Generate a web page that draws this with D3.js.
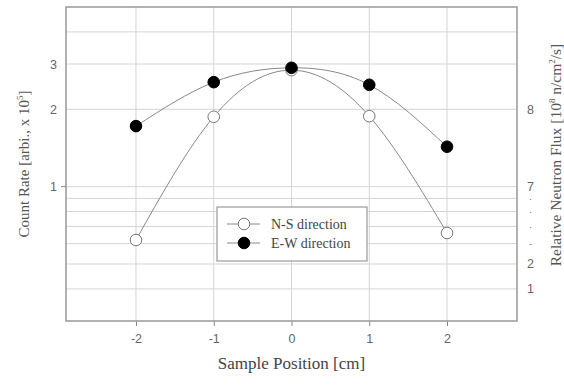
<!DOCTYPE html>
<html>
<head>
<meta charset="utf-8">
<script src="https://cdn.jsdelivr.net/npm/d3@7"></script>
<style>
  body { margin: 0; background: #fff; }
  svg { display: block; }
</style>
</head>
<body>
<div id="chart"></div>
<script>
/* CONSTANTS AND GLOBALS */
const width = 564,
  height = 388,
  margin = { top: 7, bottom: 67, left: 66, right: 47 };

// data
const positions = [-2, -1, 0, 1, 2];
const nsValues = [0.62, 1.87, 2.84, 1.88, 0.66];   // N-S direction (open)
const ewValues = [1.72, 2.55, 2.9, 2.49, 1.43];    // E-W direction (filled)
const xTicks = [-2, -1, 0, 1, 2];
const yGrid = [4, 3, 2, 1, 0.9, 0.8, 0.7, 0.6, 0.5, 0.4];
const leftTicks = [3, 2, 1];
const rightTickValues = [2, 1, 0.9, 0.8, 0.7, 0.6, 0.5, 0.4];
const rightTickLabels = ["8", "7", "·", "·", "·", "-", "2", "1"];

// SCALES
const xScale = d3.scaleLinear()
  .domain([-2.9, 2.9])
  .range([margin.left, width - margin.right]);

const yScale = d3.scaleLog()
  .domain([0.3, 5])
  .range([height - margin.bottom, margin.top]);

const svg = d3.select("#chart")
  .append("svg")
  .attr("width", width)
  .attr("height", height);

// grid
svg.append("g")
  .selectAll("line")
  .data(yGrid)
  .join("line")
  .attr("x1", margin.left)
  .attr("x2", width - margin.right)
  .attr("y1", d => yScale(d))
  .attr("y2", d => yScale(d))
  .attr("stroke", "#d4d4d4")
  .attr("stroke-width", 1);

svg.append("g")
  .selectAll("line")
  .data(xTicks)
  .join("line")
  .attr("x1", d => xScale(d))
  .attr("x2", d => xScale(d))
  .attr("y1", margin.top)
  .attr("y2", height - margin.bottom)
  .attr("stroke", "#d4d4d4")
  .attr("stroke-width", 1);

// AXES
const xAxis = d3.axisBottom(xScale)
  .tickValues(xTicks)
  .tickSize(5)
  .tickPadding(8)
  .tickFormat(d => String(d));

const xAxisGroup = svg.append("g")
  .attr("transform", `translate(0, ${height - margin.bottom})`)
  .call(xAxis);

const yAxis = d3.axisLeft(yScale)
  .tickValues(leftTicks)
  .tickSize(0)
  .tickPadding(9)
  .tickFormat(d => String(d));

const yAxisGroup = svg.append("g")
  .attr("transform", `translate(${margin.left}, 0)`)
  .call(yAxis);

// small tick at 1 on the left
yAxisGroup.append("line")
  .attr("x1", -5).attr("x2", 0)
  .attr("y1", yScale(1)).attr("y2", yScale(1))
  .attr("stroke", "#888");

const yAxisRight = d3.axisRight(yScale)
  .tickValues(rightTickValues)
  .tickSize(0)
  .tickPadding(10)
  .tickFormat((d, i) => rightTickLabels[i]);

const yAxisRightGroup = svg.append("g")
  .attr("transform", `translate(${width - margin.right}, 0)`)
  .call(yAxisRight);

[xAxisGroup, yAxisGroup, yAxisRightGroup].forEach(g => {
  g.select(".domain").remove();
  g.selectAll(".tick line").attr("stroke", "#888");
  g.selectAll(".tick text")
    .attr("fill", "#666")
    .attr("font-family", "Liberation Sans, Arial, sans-serif")
    .attr("font-size", 12.5);
});

// the placeholder marks on the right axis are tiny
yAxisRightGroup.selectAll(".tick text")
  .filter((d, i) => rightTickLabels[i] === "·" || rightTickLabels[i] === "-")
  .attr("font-size", 9)
  .attr("x", 12);

// frame
svg.append("rect")
  .attr("x", margin.left)
  .attr("y", margin.top)
  .attr("width", width - margin.left - margin.right)
  .attr("height", height - margin.top - margin.bottom)
  .attr("fill", "none")
  .attr("stroke", "#999")
  .attr("stroke-width", 1.5);

// axis titles
const titleFont = "Liberation Serif, Times New Roman, serif";

svg.append("text")
  .attr("x", (margin.left + width - margin.right) / 2)
  .attr("y", 369)
  .attr("text-anchor", "middle")
  .attr("font-family", titleFont)
  .attr("font-size", 17)
  .attr("fill", "#444")
  .text("Sample Position [cm]");

const leftTitle = svg.append("text")
  .attr("transform", `translate(29, 164)rotate(-90)`)
  .attr("text-anchor", "middle")
  .attr("font-family", titleFont)
  .attr("font-size", 15)
  .attr("fill", "#555");
leftTitle.append("tspan").text("Count Rate [arbi., x 10");
leftTitle.append("tspan").attr("dy", -6).attr("font-size", 9).text("5");
leftTitle.append("tspan").attr("dy", 6).text("]");

const rightTitle = svg.append("text")
  .attr("transform", `translate(561, 155)rotate(-90)`)
  .attr("text-anchor", "middle")
  .attr("font-family", titleFont)
  .attr("font-size", 15.5)
  .attr("fill", "#555");
rightTitle.append("tspan").text("Relative Neutron Flux [10");
rightTitle.append("tspan").attr("dy", -6).attr("font-size", 9).text("8");
rightTitle.append("tspan").attr("dy", 6).text(" n/cm");
rightTitle.append("tspan").attr("dy", -6).attr("font-size", 9).text("2");
rightTitle.append("tspan").attr("dy", 6).text("/s]");

// LINES
const line = d3.line()
  .x(d => xScale(d[0]))
  .y(d => yScale(d[1]))
  .curve(d3.curveNatural);

const series = [
  { name: "N-S direction", values: nsValues, fill: "#fff", stroke: "#777" },
  { name: "E-W direction", values: ewValues, fill: "#000", stroke: "#000" }
];

series.forEach(s => {
  const pts = positions.map((p, i) => [p, s.values[i]]);
  svg.append("path")
    .datum(pts)
    .attr("d", line)
    .attr("fill", "none")
    .attr("stroke", "#888")
    .attr("stroke-width", 1);
});

series.forEach(s => {
  svg.append("g")
    .selectAll("circle")
    .data(positions.map((p, i) => [p, s.values[i]]))
    .join("circle")
    .attr("cx", d => xScale(d[0]))
    .attr("cy", d => yScale(d[1]))
    .attr("r", 5.8)
    .attr("fill", s.fill)
    .attr("stroke", s.stroke)
    .attr("stroke-width", 1);
});

// LEGEND
const legend = svg.append("g").attr("transform", "translate(217, 207)");
legend.append("rect")
  .attr("width", 150)
  .attr("height", 54)
  .attr("fill", "#fff")
  .attr("stroke", "#999")
  .attr("stroke-width", 1.2);

series.forEach((s, i) => {
  const y = 17 + i * 19;
  legend.append("line")
    .attr("x1", 10).attr("x2", 43)
    .attr("y1", y).attr("y2", y)
    .attr("stroke", "#888");
  legend.append("circle")
    .attr("cx", 27).attr("cy", y)
    .attr("r", 5.8)
    .attr("fill", s.fill)
    .attr("stroke", s.stroke);
  legend.append("text")
    .attr("x", 54).attr("y", y + 5)
    .attr("font-family", titleFont)
    .attr("font-size", 14)
    .attr("fill", "#444")
    .text(s.name);
});
</script>
</body>
</html>
